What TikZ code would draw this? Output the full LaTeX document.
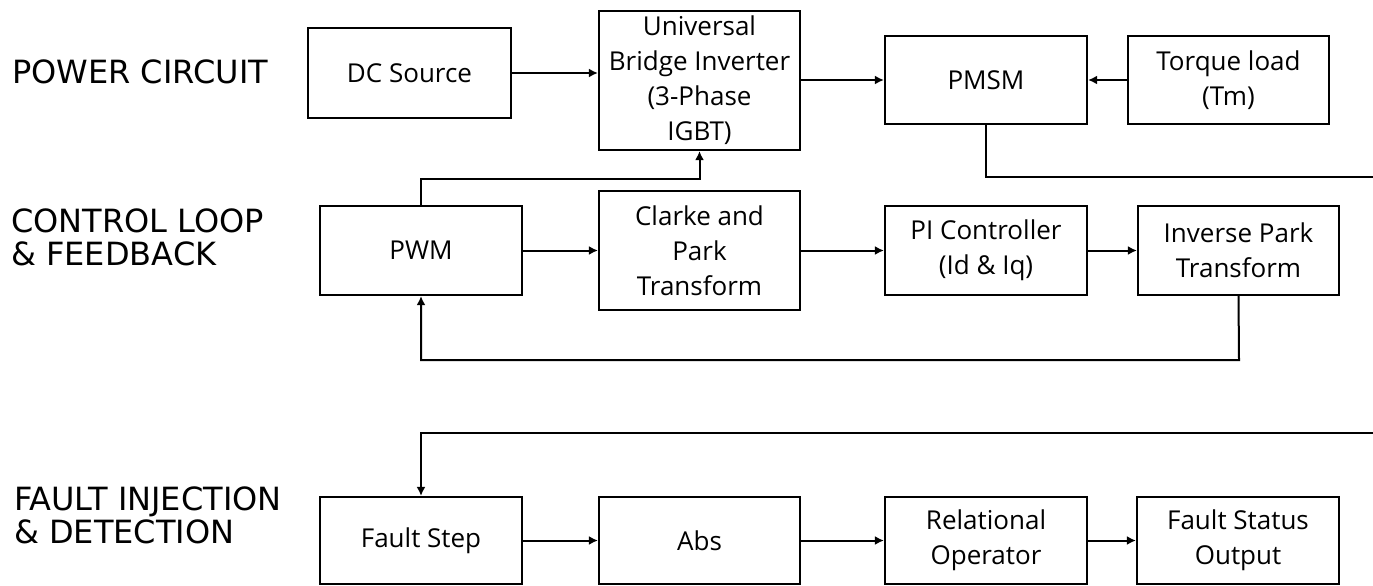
\documentclass[tikz,border=0pt]{standalone}
\usepackage{fontspec}
\setmainfont{Open Sans}
\newfontfamily\labfont{DejaVu Sans}
\usetikzlibrary{arrows.meta}
\begin{document}
\begin{tikzpicture}[x=1pt,y=-1pt,
  blk/.style={draw=black,line width=2.2pt,inner sep=0pt,align=center,
    font=\fontsize{26}{35}\selectfont,text=black},
  conn/.style={line width=2pt,draw=black},
  arr/.style={conn,-{Latex[length=9pt,width=9pt]}},
  lab/.style={anchor=base west,inner sep=0pt,align=left,
    font=\labfont\fontsize{32}{33}\selectfont}]
\useasboundingbox (0,0) rectangle (1373,586);
% labels
\node[lab] (l1) at (12,83) {POWER CIRCUIT};
\node[lab] (l2) at (11,265) {CONTROL LOOP\\\& FEEDBACK};
\node[lab] (l3) at (14,543) {FAULT INJECTION\\\& DETECTION};
% power row
\node[blk,minimum width=203,minimum height=90] (dc) at (409.5,73) {DC Source};
\node[blk,minimum width=201,minimum height=139] (inv) at (699.5,80.5) {Universal\\Bridge Inverter\\(3-Phase\\IGBT)};
\node[blk,minimum width=202,minimum height=88] (pmsm) at (986,80) {PMSM};
\node[blk,minimum width=201,minimum height=88] (tq) at (1228.5,80) {Torque load\\(Tm)};
% control row
\node[blk,minimum width=202,minimum height=89] (pwm) at (421,250.5) {PWM};
\node[blk,minimum width=201,minimum height=119] (clarke) at (699.5,250.5) {Clarke and\\Park\\Transform};
\node[blk,minimum width=202,minimum height=89] (pi) at (986,250.5) {PI Controller\\(Id \& Iq)};
\node[blk,minimum width=201,minimum height=89] (ipark) at (1238.5,250.5) {Inverse Park\\Transform};
% fault row
\node[blk,minimum width=202,minimum height=87] (fstep) at (421,540.5) {Fault Step};
\node[blk,minimum width=201,minimum height=87] (abs) at (699.5,540.5) {Abs};
\node[blk,minimum width=202,minimum height=87] (rel) at (986,540.5) {Relational\\Operator};
\node[blk,minimum width=202,minimum height=87] (fso) at (1238,540.5) {Fault Status\\Output};
% coordinates
\coordinate (r1) at (1373,177);
\coordinate (r2) at (1373,433);
\coordinate (k1) at (421,179);
\coordinate (k2) at (1239,360);
% connectors
\draw[arr] (dc.east) -- (dc.east -| inv.west);
\draw[arr] (inv.east |- pmsm.west) -- (pmsm.west);
\draw[arr] (tq.west) -- (pmsm.east);
\draw[conn] (pmsm.south) |- (r1);
\draw[arr] (pwm.north) -- (k1) -| (inv.south);
\draw[arr] (pwm.east) -- (clarke.west);
\draw[arr] (clarke.east) -- (pi.west);
\draw[arr] (pi.east) -- (ipark.west);
\draw[arr] (ipark.south) -- (k2) -| (pwm.south);
\draw[arr] (r2) -| (fstep.north);
\draw[arr] (fstep.east) -- (abs.west);
\draw[arr] (abs.east) -- (rel.west);
\draw[arr] (rel.east) -- (fso.west);
\end{tikzpicture}
\end{document}
